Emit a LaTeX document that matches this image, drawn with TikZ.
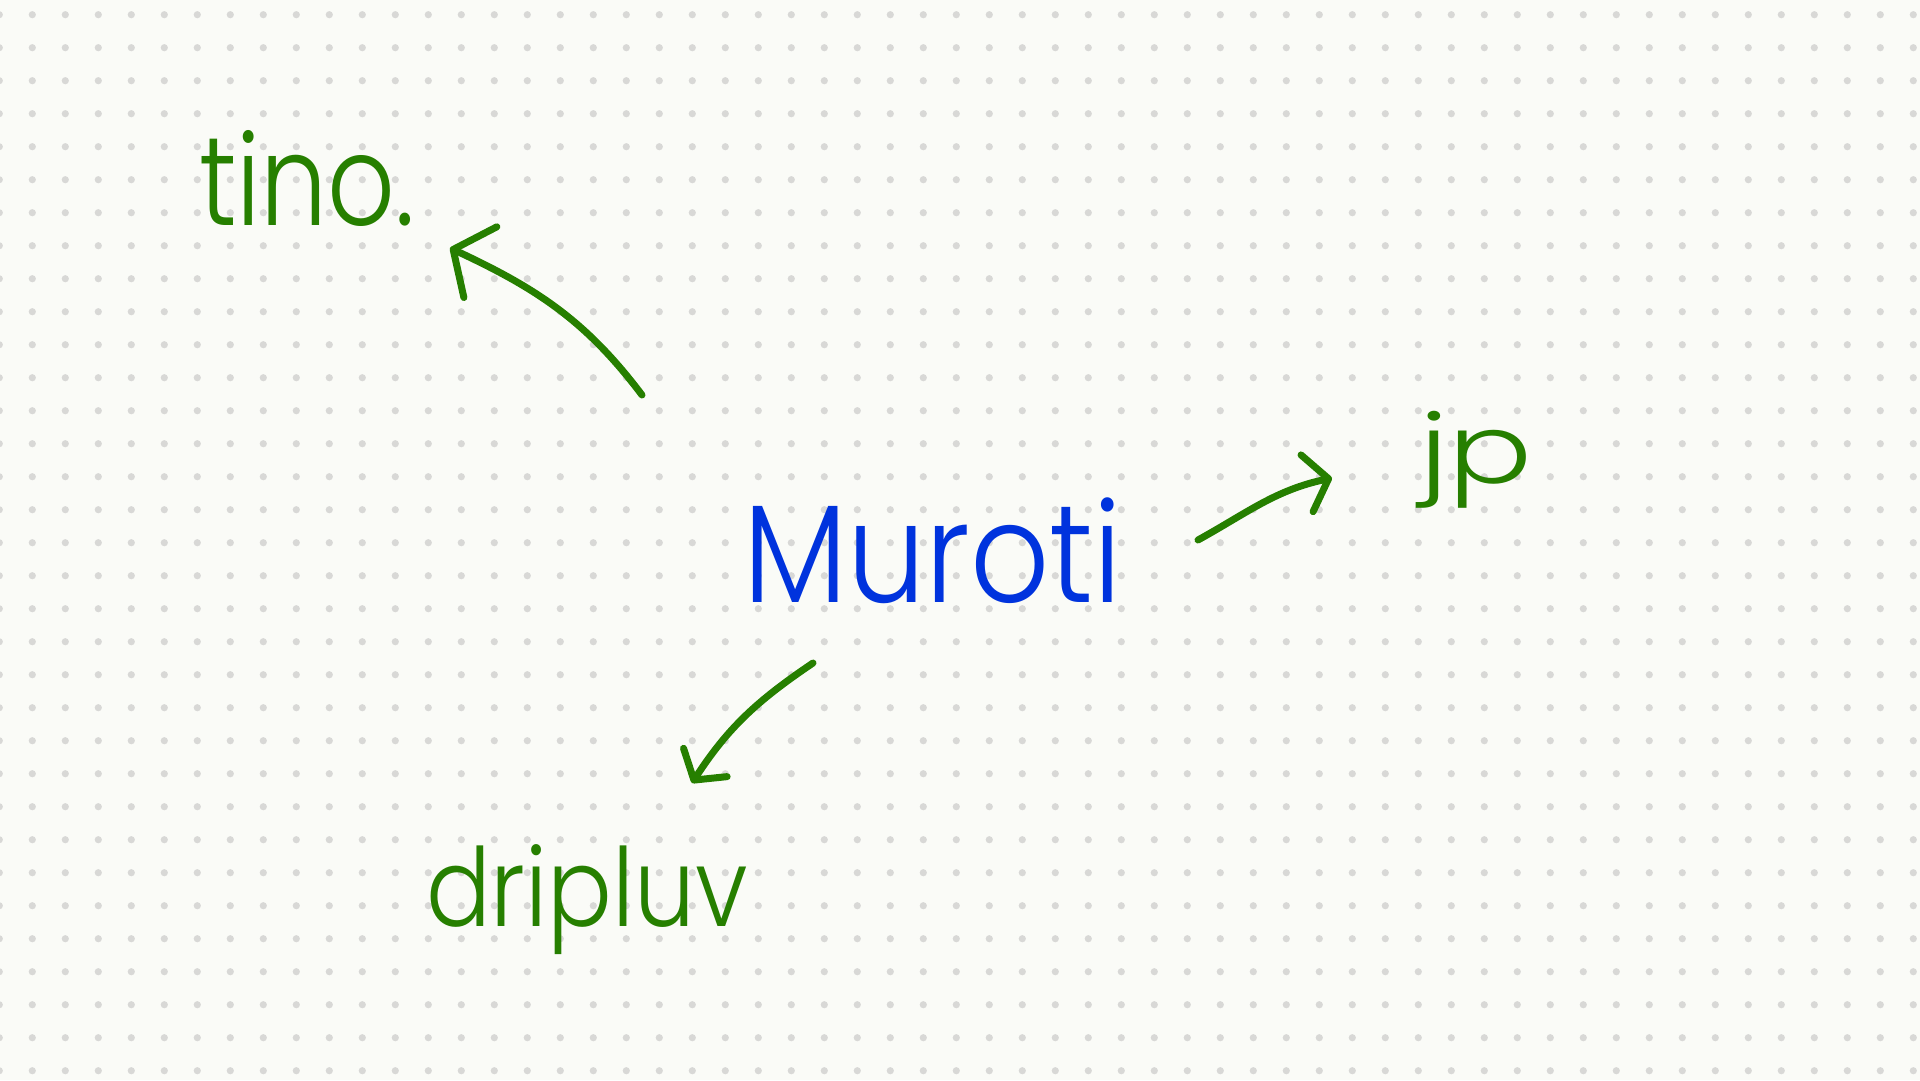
\documentclass[tikz,border=0pt]{standalone}
\usepackage{fontspec}
\newfontfamily\hand{Poppins Light}
\usetikzlibrary{arrows.meta}
\definecolor{bgc}{HTML}{FAFBF7}
\definecolor{dotc}{HTML}{D8D8D6}
\definecolor{inkblue}{HTML}{0033DD}
\definecolor{inkgreen}{HTML}{267F00}
\begin{document}
\begin{tikzpicture}[x=1pt,y=-1pt,
  txt/.style={inner sep=0pt, outer sep=0pt, anchor=north west},
  ink/.style={line width=7pt, line cap=round, line join=round, draw=inkgreen},
  ]
\fill[bgc] (0,0) rectangle (1920,1080);
\useasboundingbox (0,0) rectangle (1920,1080);
\foreach \i in {0,...,58}{\foreach \j in {0,...,32}{\fill[dotc] ({33*\i-0.7},{14.7+33*\j}) circle[radius=3.6];}}
% words
\node[txt, text=inkblue]  (mur) at (743,498)  {\resizebox*{379pt}{106pt}{\hand Muroti}};
\node[txt, text=inkgreen] (tin) at (199,130)  {\resizebox*{216pt}{96pt}{\hand tino.}};
\node[txt, text=inkgreen] (jp)  at (1419,411) {\resizebox*{113pt}{97pt}{\hand jp}};
\node[txt, text=inkgreen] (drp) at (426,845)  {\resizebox*{322pt}{110pt}{\hand dripluv}};
% arrow ends
\coordinate (a1s) at (642,395);  \coordinate (a1e) at (450,248);
\coordinate (a2s) at (1198,540); \coordinate (a2e) at (1332,478);
\coordinate (a3s) at (813,663);  \coordinate (a3e) at (692,783);
% arrows (angles in page orientation)
\draw[ink, -{Straight Barb[length=30pt,width=78pt,round]}] (a1s) to[out=127,in=335] (a1e);
\draw[ink, -{Straight Barb[length=22pt,width=58pt,round]}] (a2s) to[out=29,in=192] (a2e);
\draw[ink, -{Straight Barb[length=21pt,width=52pt,round]}] (a3s) to[out=214,in=57] (a3e);
\end{tikzpicture}
\end{document}
